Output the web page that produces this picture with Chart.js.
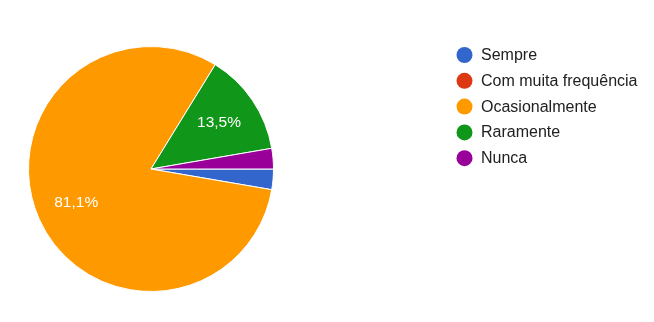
<!DOCTYPE html>
<html>
<head>
<meta charset="utf-8">
<style>
  html, body { margin: 0; padding: 0; background: #fff; }
  #wrap { width: 654px; height: 322px; }
</style>
<script src="https://cdn.jsdelivr.net/npm/chart.js@4/dist/chart.umd.min.js"></script>
</head>
<body>
<div id="wrap"><canvas id="pie" width="654" height="322"></canvas></div>
<script>
'use strict';

// ── Data ──────────────────────────────────────────────────────────────────────
const categories = ['Sempre', 'Com muita frequência', 'Ocasionalmente', 'Raramente', 'Nunca'];
const responses  = [1, 0, 30, 5, 1];
const colors     = ['#3366cc', '#dc3912', '#ff9900', '#109618', '#990099'];

const FONT = 'Arial, "Liberation Sans", sans-serif';

// Percent labels inside big slices (Google Forms style, comma decimal)
const sliceLabels = {
    id: 'sliceLabels',
    afterDatasetsDraw(chart) {
        const { ctx } = chart;
        const meta  = chart.getDatasetMeta(0);
        const total = responses.reduce((a, b) => a + b, 0);
        ctx.save();
        ctx.font = '15.5px ' + FONT;
        ctx.fillStyle = '#ffffff';
        ctx.textAlign = 'center';
        ctx.textBaseline = 'middle';
        meta.data.forEach((arc, i) => {
            const pct = responses[i] / total * 100;
            if (pct < 5) return;
            const mid = (arc.startAngle + arc.endAngle) / 2;
            const r   = arc.outerRadius * 0.67;
            const x   = arc.x + Math.cos(mid) * r;
            const y   = arc.y + Math.sin(mid) * r;
            ctx.fillText(pct.toFixed(1).replace('.', ',') + '%', x, y);
        });
        ctx.restore();
    }
};

// Legend on the right, drawn at fixed place like the form summary
const sideLegend = {
    id: 'sideLegend',
    afterDraw(chart) {
        const { ctx } = chart;
        ctx.save();
        ctx.font = '16px ' + FONT;
        ctx.textBaseline = 'middle';
        chart.data.labels.forEach((lbl, i) => {
            const y = 55 + i * 25.8;
            ctx.beginPath();
            ctx.arc(464.5, y, 8, 0, Math.PI * 2);
            ctx.fillStyle = colors[i];
            ctx.fill();
            ctx.fillStyle = '#212121';
            ctx.fillText(lbl, 481, y + 0.5);
        });
        ctx.restore();
    }
};

new Chart(document.getElementById('pie'), {
    type: 'pie',
    data: {
        labels: categories,
        datasets: [{
            data: responses,
            backgroundColor: colors,
            borderColor: '#ffffff',
            borderWidth: 1
        }]
    },
    options: {
        responsive: false,
        animation: false,
        rotation: 90,
        layout: { padding: { left: 28, top: 46, right: 380, bottom: 30 } },
        plugins: {
            legend: { display: false },
            tooltip: { enabled: false }
        }
    },
    plugins: [sliceLabels, sideLegend]
});
</script>
</body>
</html>
